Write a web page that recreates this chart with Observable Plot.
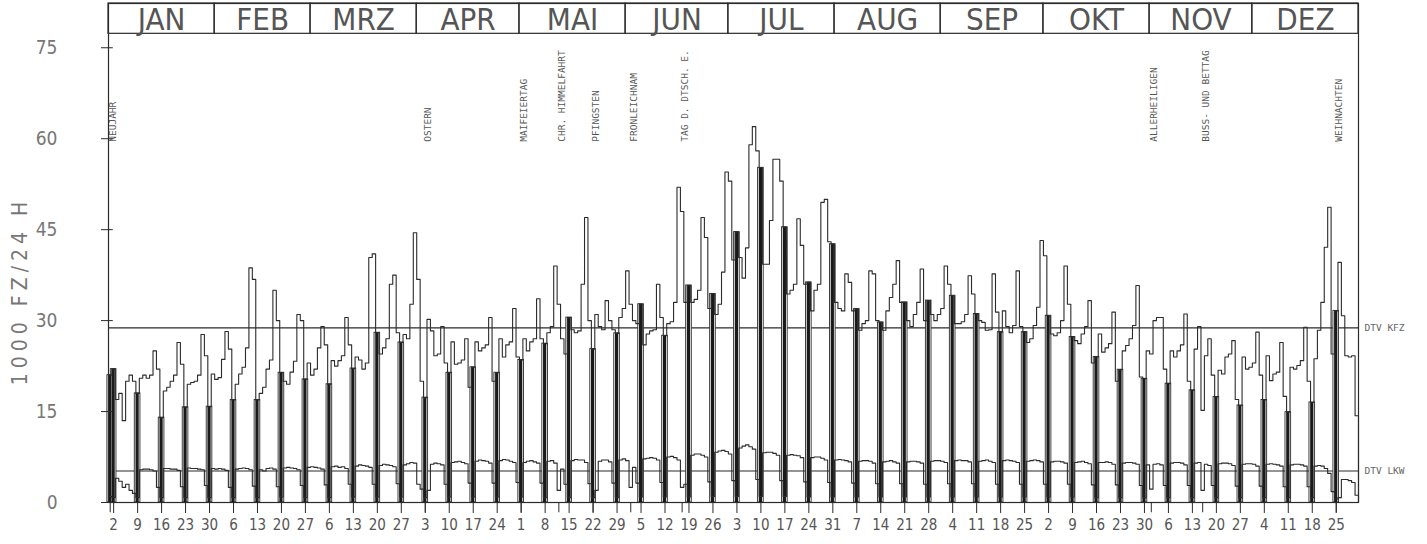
<!DOCTYPE html>
<html>
<head>
<meta charset="utf-8">
<script src="https://cdn.jsdelivr.net/npm/d3@7"></script>
<script src="https://cdn.jsdelivr.net/npm/@observablehq/plot@0.6"></script>
<style>
  html, body { margin: 0; padding: 0; background: #fff; }
  #chart { width: 1427px; height: 544px; overflow: hidden; }
</style>
</head>
<body>
<div id="chart"></div>
<script>
// ---------- DATA (1983, daily values, 1000 Fz/24 h) ----------
// Months (header)
const months = ["JAN", "FEB", "MRZ", "APR", "MAI", "JUN", "JUL", "AUG", "SEP", "OKT", "NOV", "DEZ"];

// Kfz per day, rows = weeks (Mo..So); first row Sa 1.1./So 2.1., last row Mo 26.12.-Sa 31.12.
const kfzWeeks = [
  [21, 22],
  [17, 18, 13.5, 20, 21, 20, 18],
  [20.5, 21, 20.5, 21, 25, 22, 14],
  [18.4, 19, 20, 21, 26.4, 22.8, 15.7],
  [19.5, 19.8, 20, 21, 27.7, 24.2, 15.8],
  [21.2, 20.3, 20.6, 23.6, 28.2, 25.3, 16.9],
  [19.5, 21.2, 22.3, 25.5, 38.7, 36.8, 16.9],
  [18, 19, 22, 23.5, 35, 30, 21.4],
  [20, 19.5, 21.5, 23.3, 31, 30, 20.3],
  [23, 21, 22, 25.5, 29, 26, 19.5],
  [23.4, 22.5, 23.4, 24.2, 30.5, 26, 22.1],
  [24, 23.5, 22, 23, 40.4, 41, 28],
  [24.5, 25.5, 27, 36, 37.5, 28, 26.4],
  [27.7, 27, 32.7, 44.5, 36.8, 20, 17.3],
  [30.2, 28.3, 24.2, 24.5, 29, 23, 21.4],
  [26.5, 22.8, 23, 23.5, 27, 19, 22.3],
  [26.5, 25, 25.5, 26, 30.5, 20, 21.4],
  [27, 24, 26, 26.5, 32, 24, 23.5],
  [27, 25, 26.5, 27, 33.6, 27, 26.2],
  [28, 29, 39, 32.7, 27, 24.5, 30.5],
  [28.5, 28, 28.3, 36, 47, 30, 25.3],
  [31, 29, 28.5, 33.3, 30, 28.5, 27.9],
  [30.5, 32, 38.2, 32.7, 30, 29.5, 32.7],
  [26, 27.8, 28.3, 28.5, 36, 30.5, 27.5],
  [29.5, 29.8, 33, 52, 48, 33, 35.8],
  [33, 33.5, 35, 47, 43.7, 32, 34.4],
  [31, 32.7, 38, 54.5, 53, 40, 44.6],
  [40.4, 37, 42, 59, 62, 58, 55.2],
  [39.3, 39.3, 46.5, 56.6, 56.6, 53, 45.4],
  [34.4, 35, 36, 46.8, 42.4, 36, 36.3],
  [31.6, 35, 36, 49.5, 50, 43, 42.6],
  [33, 32, 31.6, 37.7, 36.3, 31.6, 31.9],
  [28.4, 29.5, 30, 38.2, 37.7, 30, 29.7],
  [28.4, 31.6, 33.8, 36, 39.9, 33, 33],
  [30, 29, 31, 33, 38.5, 30, 33.3],
  [31, 30, 31, 32, 39, 36, 34.1],
  [29.5, 29.5, 29.8, 31, 37.4, 34.4, 31.1],
  [30, 29.7, 28.4, 28.5, 37.7, 31.4, 28.1],
  [31.6, 29, 28, 29.2, 38.2, 29, 28.1],
  [26.4, 27, 29.2, 32.2, 43.2, 40.7, 30.8],
  [27.8, 27.5, 28, 30, 39, 32.7, 27.3],
  [26.7, 26.2, 27.8, 29, 33.3, 23, 24],
  [27.8, 24.8, 25.5, 26.2, 31.4, 20, 21.9],
  [25, 25.9, 27, 29.2, 35.8, 20.7, 20.4],
  [25, 24.5, 30, 30.5, 30.5, 22, 19.6],
  [25, 24, 25, 26, 31.1, 20, 18.5],
  [25.3, 29, 15.2, 24.2, 27, 21, 17.4],
  [21.8, 21.2, 24, 24.5, 26.7, 17, 16],
  [24, 22, 22.3, 23, 28.1, 21, 16.9],
  [24.2, 20.1, 21.2, 21.5, 26.4, 17.5, 14.9],
  [22.3, 22, 22.6, 23.4, 28.9, 20, 16.5],
  [23.7, 28.4, 33, 42.1, 48.7, 24.5, 31.6],
  [39.6, 30.8, 24.2, 24, 24.2, 14.3]
];

// Lkw per day, same layout
const lkwWeeks = [
  [1.0, 0.8],
  [4.0, 3.5, 2.5, 3.0, 2.0, 1.5, 0.8],
  [5.4, 5.5, 5.5, 5.4, 5.2, 2.5, 0.8],
  [5.6, 5.6, 5.5, 5.5, 5.3, 2.6, 0.8],
  [5.7, 5.6, 5.6, 5.5, 5.4, 2.8, 0.8],
  [5.6, 5.5, 5.6, 5.5, 5.3, 2.5, 0.8],
  [5.5, 5.6, 5.7, 5.6, 5.4, 2.7, 0.8],
  [5.4, 5.2, 5.6, 5.7, 5.5, 2.6, 0.9],
  [5.7, 5.8, 5.7, 5.6, 5.4, 2.8, 0.8],
  [5.8, 5.9, 5.8, 5.7, 5.5, 2.9, 0.8],
  [5.9, 6.0, 5.8, 5.9, 5.6, 3.0, 0.9],
  [6.0, 6.2, 6.1, 6.0, 5.8, 3.0, 0.9],
  [6.1, 6.3, 6.2, 6.1, 5.9, 3.1, 0.9],
  [6.2, 6.4, 6.6, 6.5, 3.0, 2.2, 0.8],
  [2.0, 6.3, 6.5, 6.4, 6.2, 3.0, 0.9],
  [6.6, 6.7, 6.8, 6.6, 6.4, 3.2, 0.9],
  [6.8, 7.0, 6.9, 6.8, 6.5, 3.2, 0.9],
  [6.9, 7.1, 7.0, 6.8, 6.6, 3.3, 0.9],
  [6.6, 6.8, 6.9, 6.7, 6.5, 3.2, 0.8],
  [6.8, 6.9, 6.5, 2.0, 5.5, 3.0, 0.8],
  [6.9, 7.1, 7.0, 7.0, 6.6, 3.1, 0.8],
  [2.0, 6.8, 7.0, 7.0, 6.7, 3.2, 0.8],
  [7.0, 7.2, 6.9, 2.5, 5.8, 3.2, 0.9],
  [7.2, 7.3, 7.4, 7.3, 7.0, 3.3, 0.9],
  [7.5, 7.6, 7.4, 7.0, 2.5, 3.0, 0.9],
  [7.8, 8.0, 8.0, 7.8, 7.5, 3.4, 1.0],
  [8.3, 8.5, 8.6, 8.4, 8.0, 3.6, 1.0],
  [9.0, 9.3, 9.5, 9.2, 8.8, 3.8, 1.0],
  [8.2, 8.3, 8.3, 8.1, 7.8, 3.6, 1.0],
  [7.8, 7.9, 7.8, 7.7, 7.4, 3.4, 0.9],
  [7.4, 7.5, 7.5, 7.3, 7.0, 3.3, 0.9],
  [7.0, 7.1, 7.0, 6.9, 6.7, 3.2, 0.9],
  [6.8, 6.9, 6.9, 6.8, 6.5, 3.1, 0.9],
  [6.7, 6.8, 6.9, 6.7, 6.5, 3.1, 0.9],
  [6.7, 6.8, 6.8, 6.7, 6.5, 3.0, 0.9],
  [6.8, 6.9, 6.9, 6.8, 6.6, 3.1, 0.9],
  [6.9, 7.0, 6.9, 6.9, 6.7, 3.1, 0.9],
  [6.8, 6.9, 7.0, 6.8, 6.6, 3.0, 0.9],
  [6.9, 7.0, 6.9, 6.8, 6.6, 3.0, 0.9],
  [6.8, 6.9, 7.0, 6.9, 6.7, 3.0, 0.9],
  [6.7, 6.8, 6.8, 6.7, 6.5, 3.0, 0.9],
  [6.6, 6.7, 6.8, 6.6, 6.4, 2.9, 0.8],
  [6.6, 6.6, 6.7, 6.6, 6.3, 2.9, 0.8],
  [6.5, 6.6, 6.6, 6.5, 6.3, 2.8, 0.8],
  [6.2, 2.2, 6.3, 6.4, 6.2, 2.8, 0.8],
  [6.5, 6.6, 6.6, 6.5, 6.2, 2.8, 0.8],
  [6.5, 6.6, 2.0, 6.3, 6.1, 2.8, 0.8],
  [6.4, 6.5, 6.5, 6.4, 6.1, 2.7, 0.8],
  [6.3, 6.4, 6.4, 6.3, 6.0, 2.7, 0.8],
  [6.3, 6.4, 6.3, 6.2, 6.0, 2.6, 0.8],
  [6.2, 6.3, 6.3, 6.2, 6.0, 2.6, 0.8],
  [6.0, 6.1, 6.0, 5.6, 4.8, 1.8, 0.6],
  [0.8, 3.8, 3.8, 3.6, 3.3, 1.2]
];

// Holidays (label texts and dates)
const holidayNames = ["NEUJAHR", "OSTERN", "MAIFEIERTAG", "CHR. HIMMELFAHRT", "PFINGSTEN",
  "FRONLEICHNAM", "TAG D. DTSCH. E.", "ALLERHEILIGEN", "BUSS- UND BETTAG", "WEIHNACHTEN"];
const holidayDates = ["1983-01-01", "1983-04-03", "1983-05-01", "1983-05-12", "1983-05-22",
  "1983-06-02", "1983-06-17", "1983-11-01", "1983-11-16", "1983-12-25"];
// Non-Sunday days drawn as dark bars
const extraBarDates = ["1983-01-01"];

// Average daily traffic reference lines
const dtvNames = ["DTV KFZ", "DTV LKW"];
const dtvValues = [28.8, 5.2];

// Y axis ticks and title
const yTicks = [0, 15, 30, 45, 60, 75];
const yTitle = "1000 FZ/24 H";

// ---------- BUILD ----------
const DAY = 864e5;
const t0 = Date.UTC(1983, 0, 1);
const t1 = Date.UTC(1984, 0, 1);
const kfz = kfzWeeks.flat();
const lkw = lkwWeeks.flat();
const iso = t => new Date(t).toISOString().slice(0, 10);
const days = kfz.map((v, i) => ({
  date: new Date(t0 + i * DAY),
  end: new Date(t0 + (i + 1) * DAY),
  mid: new Date(t0 + (i + 0.5) * DAY),
  kfz: v,
  lkw: lkw[i]
}));
const lineData = [...days, {date: new Date(t1), kfz: 0, lkw: 0}];
const barDays = days.filter(d => d.date.getUTCDay() === 0 || extraBarDates.includes(iso(+d.date)));
const sundays = days.filter(d => d.date.getUTCDay() === 0);
const monthData = months.map((m, i) => ({
  name: m,
  x1: new Date(Date.UTC(1983, i, 1)),
  x2: new Date(Date.UTC(1983, i + 1, 1))
}));
const holidays = holidayNames.map((n, i) => ({name: n, mid: new Date(Date.parse(holidayDates[i]) + DAY / 2)}));
const dtv = dtvNames.map((n, i) => ({name: n, value: dtvValues[i]}));

const ink = "#2b2b2b";
const grey = "#666";
const narrow = "'Liberation Sans Narrow', 'DejaVu Sans Condensed', 'Liberation Sans', sans-serif";
const mono = "'DejaVu Sans Mono', 'Liberation Mono', monospace";

const chart = Plot.plot({
  width: 1427,
  height: 544,
  marginLeft: 108,
  marginRight: 69,
  marginTop: 3,
  marginBottom: 42,
  style: {background: "#fff", color: ink},
  x: {type: "utc", domain: [new Date(t0), new Date(t1)]},
  y: {domain: [0, 82.3]},
  marks: [
    // month header
    Plot.rect(monthData, {x1: "x1", x2: "x2", y1: 77.3, y2: 82.3, stroke: ink, strokeWidth: 1.2, fill: "none"}),
    Plot.text(monthData, {
      x: d => new Date((+d.x1 + +d.x2) / 2), y: 79.6, text: "name",
      fontSize: 31, fontFamily: narrow, fill: "#555"
    }),
    // reference lines
    Plot.ruleY(dtv, {y: "value", stroke: ink, strokeWidth: 1.1}),
    Plot.text(dtv, {
      x: new Date(t1), y: "value", text: "name", textAnchor: "start", dx: 6,
      fontSize: 9.5, fontFamily: mono, fill: grey
    }),
    // Sunday bars: outline + dark fill
    Plot.rect(barDays, {
      x1: "date", x2: "end", y1: 0, y2: "kfz",
      stroke: ink, strokeWidth: 0.9, fill: "#fff", insetLeft: -1.1, insetRight: -1.1
    }),
    Plot.rect(barDays, {
      x1: "date", x2: "end", y1: 0, y2: "kfz",
      fill: "#1a1a1a", insetLeft: 0.1, insetRight: 0.1
    }),
    // daily lines
    Plot.line(lineData, {x: "date", y: "lkw", curve: "step-after", stroke: ink, strokeWidth: 1.1}),
    Plot.line(lineData, {x: "date", y: "kfz", curve: "step-after", stroke: ink, strokeWidth: 1.1}),
    // holiday labels
    Plot.text(holidays, {
      x: "mid", y: 59.5, text: "name", rotate: -90, textAnchor: "start", dx: 3,
      fontSize: 9.5, fontFamily: mono, fill: "#555"
    }),
    // holiday marks under the baseline
    Plot.ruleX(holidays, {x: "mid", y1: -1.7, y2: 0, stroke: ink, strokeWidth: 1}),
    // frame
    Plot.frame({stroke: ink, strokeWidth: 1.2}),
    // y axis
    Plot.axisY({
      ticks: yTicks, tickSize: 7, tickPadding: 44, label: null,
      fontSize: 19, fontFamily: narrow, color: "#777", stroke: ink
    }),
    Plot.ruleY(yTicks, {x1: new Date(t0), x2: new Date(t0 + 1.4 * DAY), stroke: ink}),
    Plot.text([yTitle], {
      frameAnchor: "left", textAnchor: "middle", dx: -88, dy: 38, rotate: -90,
      fontSize: 21, fontFamily: narrow, fill: "#777"
    }),
    // x axis (Sundays)
    Plot.axisX({
      ticks: sundays.map(d => d.mid), tickSize: 11, tickPadding: 6,
      tickFormat: d => d.getUTCDate(), label: null,
      fontSize: 15, fontFamily: narrow, color: "#555", stroke: ink
    })
  ]
});

document.getElementById("chart").appendChild(chart);
// spaced-out y title, as on the plotter original
d3.select(chart).selectAll("text").filter(function () { return this.textContent === yTitle; })
  .style("letter-spacing", "5px");
</script>
</body>
</html>
